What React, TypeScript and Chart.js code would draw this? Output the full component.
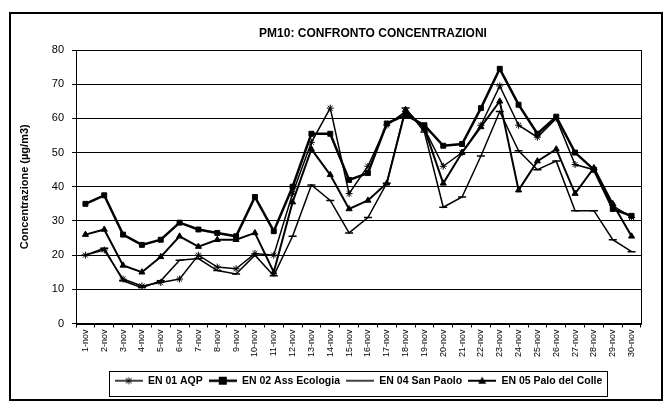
import React, { useEffect, useRef } from "react";
import { Chart, registerables } from "chart.js";

Chart.register(...registerables);

const TITLE = "PM10: CONFRONTO CONCENTRAZIONI";
const Y_TITLE = "Concentrazione (µg/m3)";

const categories = [
  "1-nov", "2-nov", "3-nov", "4-nov", "5-nov", "6-nov", "7-nov", "8-nov", "9-nov", "10-nov",
  "11-nov", "12-nov", "13-nov", "14-nov", "15-nov", "16-nov", "17-nov", "18-nov", "19-nov", "20-nov",
  "21-nov", "22-nov", "23-nov", "24-nov", "25-nov", "26-nov", "27-nov", "28-nov", "29-nov", "30-nov",
];

const seriesNames = ["EN 01 AQP", "EN 02 Ass Ecologia", "EN 04 San Paolo", "EN 05 Palo del Colle"];

const en01Aqp = [
  20, 21.5, 13, 11, 12, 13, 20, 16.5, 16, 20.5,
  20, 38, 53, 63, 38, 46, 58, 62, 57, 46,
  50, 58, 69.5, 58, 54.5, 60, 46.5, 45, 34.5, 31,
];
const en02AssEcologia = [
  35, 37.5, 26, 23, 24.5, 29.5, 27.5, 26.5, 25.5, 37,
  27, 40, 55.5, 55.5, 42, 44, 58.5, 61, 58, 52,
  52.5, 63, 74.5, 64, 55.5, 60.5, 50, 45, 33.5, 31.5,
];
const en04SanPaolo = [
  20, 22, 12.5, 10.5, 12.5, 18.5, 19, 15.5, 14.5, 20,
  14, 25.5, 40.5, 36, 26.5, 31, 41, 63, 56, 34,
  37, 49, 62, 50.5, 45, 47.5, 33, 33, 24.5, 21,
];
const en05PaloDelColle = [
  26, 27.5, 17, 15, 19.5, 25.5, 22.5, 24.5, 24.5, 26.5,
  15, 35.5, 51, 43.5, 33.5, 36, 41, 62.5, 57, 41,
  50, 57.5, 65, 39, 47.5, 51, 38, 45.5, 35, 25.5,
];

const FONT = "'Liberation Sans', Arial, sans-serif";

function makeLegendIcon(kind: string, lineWidth: number): HTMLCanvasElement {
  const c = document.createElement("canvas");
  c.width = 28;
  c.height = 10;
  const ctx = c.getContext("2d")!;
  ctx.strokeStyle = "#000";
  ctx.fillStyle = "#000";
  ctx.lineWidth = lineWidth;
  ctx.beginPath();
  ctx.moveTo(0, 5);
  ctx.lineTo(28, 5);
  ctx.stroke();
  ctx.lineWidth = 1;
  if (kind === "rect") {
    ctx.fillRect(10, 1, 8, 8);
  } else if (kind === "triangle") {
    ctx.beginPath();
    ctx.moveTo(14, 1);
    ctx.lineTo(18, 8);
    ctx.lineTo(10, 8);
    ctx.closePath();
    ctx.fill();
  } else if (kind === "star") {
    ctx.beginPath();
    ctx.moveTo(14, 1.5);
    ctx.lineTo(14, 8.5);
    ctx.moveTo(11, 2.5);
    ctx.lineTo(17, 7.5);
    ctx.moveTo(17, 2.5);
    ctx.lineTo(11, 7.5);
    ctx.stroke();
  }
  return c;
}

const decorPlugin = {
  id: "decor",
  afterDraw(chart: any) {
    const ctx = chart.ctx as CanvasRenderingContext2D;
    const a = chart.chartArea;
    ctx.save();
    ctx.strokeStyle = "#000";
    ctx.lineWidth = 1;
    ctx.strokeRect(Math.round(a.left) + 0.5, Math.round(a.top) + 0.5, Math.round(a.right - a.left), Math.round(a.bottom - a.top));
    // outer frame
    ctx.lineWidth = 2;
    ctx.strokeRect(10, 13, 652, 387);
    // title
    ctx.fillStyle = "#000";
    ctx.font = "bold 12px " + FONT;
    ctx.textAlign = "center";
    ctx.textBaseline = "middle";
    ctx.fillText(TITLE, 373, 34);
    // legend border
    const lg = chart.legend;
    if (lg && lg.legendHitBoxes && lg.legendHitBoxes.length) {
      let minL = Infinity;
      let maxR = -Infinity;
      for (const h of lg.legendHitBoxes) {
        minL = Math.min(minL, h.left);
        maxR = Math.max(maxR, h.left + h.width);
      }
      ctx.lineWidth = 1;
      ctx.strokeRect(Math.round(minL - 6) + 0.5, Math.round(lg.top + 1) + 0.5, Math.round(maxR - minL + 10), Math.round(lg.bottom - lg.top - 2));
    }
    ctx.restore();
  },
};

export default function App() {
  const ref = useRef<HTMLCanvasElement | null>(null);

  useEffect(() => {
    if (!ref.current) return;
    const kinds = ["star", "rect", "line", "triangle"];
    const widths = [1.5, 2.5, 1.5, 2];
    const icons = kinds.map((k, i) => makeLegendIcon(k, widths[i]));

    const chart = new Chart(ref.current, {
      type: "line",
      data: {
        labels: categories,
        datasets: [
          {
            label: seriesNames[0],
            data: en01Aqp,
            borderColor: "#000",
            backgroundColor: "#000",
            borderWidth: 1.5,
            pointStyle: "star",
            pointRadius: 3.5,
            pointBorderWidth: 1,
            pointBorderColor: "#000",
          },
          {
            label: seriesNames[1],
            data: en02AssEcologia,
            borderColor: "#000",
            backgroundColor: "#000",
            borderWidth: 2.5,
            pointStyle: "rect",
            pointRadius: 3.5,
            pointBorderWidth: 1,
            pointBorderColor: "#000",
          },
          {
            label: seriesNames[2],
            data: en04SanPaolo,
            borderColor: "#000",
            backgroundColor: "#000",
            borderWidth: 1.5,
            pointStyle: "line",
            pointRadius: 4,
            pointBorderWidth: 1.5,
            pointBorderColor: "#000",
          },
          {
            label: seriesNames[3],
            data: en05PaloDelColle,
            borderColor: "#000",
            backgroundColor: "#000",
            borderWidth: 2,
            pointStyle: "triangle",
            pointRadius: 3.5,
            pointBorderWidth: 1,
            pointBorderColor: "#000",
          },
        ],
      },
      options: {
        responsive: false,
        animation: false,
        layout: { padding: { left: 18, right: 26, top: 50, bottom: 13 } },
        elements: { line: { tension: 0 } },
        plugins: {
          title: { display: false },
          tooltip: { enabled: false },
          legend: {
            display: true,
            position: "bottom",
            fullSize: false,
            labels: {
              usePointStyle: true,
              pointStyleWidth: 28,
              padding: 6,
              color: "#000",
              font: { family: FONT, size: 10.5, weight: "bold" },
              generateLabels: () =>
                seriesNames.map((name, i) => ({
                  text: name,
                  pointStyle: icons[i],
                  datasetIndex: i,
                  hidden: false,
                  lineWidth: 0,
                  fillStyle: "#000",
                  strokeStyle: "#000",
                  fontColor: "#000",
                })),
            },
          },
        },
        scales: {
          x: {
            offset: true,
            afterFit: (s: any) => {
              s.height = 46;
            },
            grid: {
              offset: true,
              drawOnChartArea: false,
              drawTicks: true,
              tickLength: 4,
              color: "#000",
            },
            border: { color: "#000", width: 1 },
            ticks: {
              autoSkip: false,
              maxRotation: 90,
              minRotation: 90,
              padding: 2,
              color: "#000",
              font: { family: FONT, size: 9 },
            },
          },
          y: {
            min: 0,
            max: 80,
            afterFit: (s: any) => {
              s.width = 58;
            },
            ticks: {
              stepSize: 10,
              padding: 8,
              color: "#000",
              font: { family: FONT, size: 11 },
            },
            grid: {
              color: "#000",
              lineWidth: 1,
              tickLength: 4,
            },
            border: { color: "#000", width: 1 },
            title: {
              display: true,
              text: Y_TITLE,
              color: "#000",
              font: { family: FONT, size: 11, weight: "bold" },
              padding: { top: 0, bottom: 4 },
            },
          },
        },
      },
      plugins: [decorPlugin],
    });
    return () => chart.destroy();
  }, []);

  return (
    <div style={{ position: "fixed", left: 0, top: 0, width: 667, height: 409, background: "#fff" }}>
      <canvas ref={ref} width={667} height={409} style={{ display: "block" }} />
    </div>
  );
}
